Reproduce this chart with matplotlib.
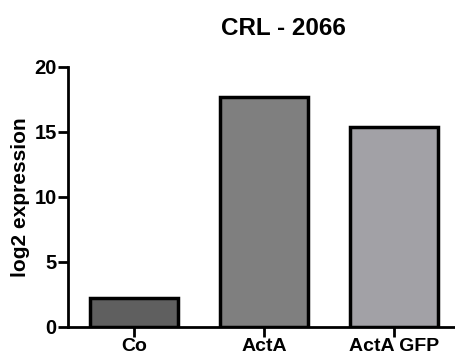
import matplotlib
matplotlib.use("Agg")
import matplotlib.pyplot as plt

categories = ["Co", "ActA", "ActA GFP"]
values = [2.18, 17.65, 15.38]
colors = ["#5f5f5f", "#7f7f7f", "#a2a1a6"]
yticks = [0, 5, 10, 15, 20]

plt.rcParams['font.family'] = ['Liberation Sans', 'DejaVu Sans']
plt.rcParams['font.weight'] = 'bold'

fig = plt.figure(figsize=(4.56, 3.54), dpi=100)
ax = fig.add_axes([0.149, 0.077, 0.851, 0.7345])

x = range(len(categories))
ax.bar(x, values, width=0.68, color=colors, edgecolor="black", linewidth=2.5)

ax.set_xlim(-0.508, 2.477)
ax.set_ylim(0, 20)
ax.set_yticks(yticks)
ax.set_xticks(list(x))
ax.set_xticklabels(categories, fontsize=14, fontweight='bold')
ax.set_yticklabels([str(t) for t in yticks], fontsize=14.5, fontweight='bold')
ax.set_ylabel("log2 expression", fontsize=15, fontweight='bold', labelpad=3)

# title sits a bit right of the axes centre in the original
fig.text(283.5 / 456, 1 - 35 / 354, "CRL - 2066", fontsize=17.5,
         fontweight='bold', ha='center', va='baseline')

for s in ["top", "right"]:
    ax.spines[s].set_visible(False)
for s in ["left", "bottom"]:
    ax.spines[s].set_linewidth(2)
ax.tick_params(width=2, length=7, pad=1)

fig.savefig("out.png", dpi=100)
